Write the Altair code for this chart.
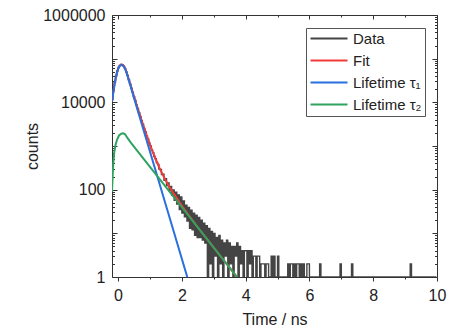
import altair as alt
import pandas as pd

FONT = "Liberation Sans, Arial, sans-serif"
SERIES = ["Data", "Fit", "Lifetime τ₁", "Lifetime τ₂"]
COLORS = ["#444444", "#f23a3a", "#2a6fde", "#2ea35f"]

# measured histogram (channel width 0.04 ns, first channel at -0.18 ns)
T0 = -0.18
DT = 0.04
data_counts = [
    11650, 18540, 28910, 40530, 52710, 62880, 70240, 73310, 72580, 67390,
    59120, 49870, 41460, 32940, 26420, 20980, 17110, 13520, 11030, 8760,
    7210, 5770, 4730, 3790, 3160, 2530, 2120, 1710, 1450, 1170,
    1005, 812, 703, 576, 511, 418, 377,
    298, 289, 221, 226, 164, 178, 124, 143, 96, 118,
    74, 99, 57, 88, 47, 76, 35, 68, 29, 55,
    24, 44, 19, 39, 13, 34, 12, 29, 9, 26,
    8, 23, 8, 20, 7, 17, 6, 15, 1, 13,
    2, 11, 1, 10,
    3, 8, 1, 9, 2, 7, 1, 6, 3, 7, 1, 6, 2, 5, 1, 5, 3, 6, 1, 5,
    2, 4, 1, 4, 4, 1, 4, 2, 4, 1, 3, 3, 1, 3, 3, 1, 2, 2, 2, 1,
    2, 2, 1, 1, 3, 1, 3, 1, 1, 3, 1,
    1, 1, 1, 1, 1, 1, 2, 1, 2, 2, 1, 2, 1, 2, 2, 1, 2, 1, 2, 1,
    1, 2, 2, 1, 1, 1, 1, 1, 1, 1, 1, 2, 1, 1, 1, 1, 1, 1, 1, 1,
    1, 1, 1, 1, 1, 1, 1, 2, 1, 1, 1, 1, 1, 1, 1, 1, 2, 1, 1, 1,
    1, 1, 1, 1, 1, 1, 1, 1, 1, 1, 1, 1, 1, 1, 1, 1, 1, 1, 1, 1,
    1, 1, 1, 1, 1, 1, 1, 1, 1, 1, 1, 1, 1, 1, 1, 1, 1, 1, 1, 1,
    1, 1, 2, 1, 1, 1, 1, 1, 1, 1, 1, 1, 1, 1, 1, 1, 1, 1, 1, 1, 1, 1, 1,
]

fit_time = [-0.19, -0.15, -0.10, -0.05, 0.00, 0.05, 0.10, 0.15, 0.20, 0.25,
            0.30, 0.40, 0.50, 0.60, 0.70, 0.80, 0.90, 1.00, 1.10, 1.20,
            1.30, 1.40, 1.50, 1.60, 1.80, 2.00, 2.20, 2.50, 3.00, 3.73]
fit_counts = [10600, 17000, 29100, 44100, 59100, 69400, 73500, 71900, 65000, 53100,
              41300, 23600, 13600, 7950, 4700, 2830, 1730, 1080, 695, 460,
              314, 221, 160, 118, 71, 43, 27, 13.7, 4.7, 1.0]

tau1_time = [-0.19, -0.15, -0.10, -0.05, 0.00, 0.05, 0.10, 0.15, 0.20, 0.25,
             0.30, 0.40, 0.50, 2.17]
tau1_counts = [10500, 16600, 28200, 42700, 57500, 67600, 71600, 70000, 63100, 51300,
               39800, 22400, 12600, 1.0]

tau2_time = [-0.19, -0.17, -0.15, -0.12, -0.08, -0.03, 0.03, 0.10, 0.16, 0.22,
             0.30, 0.40, 3.73]
tau2_counts = [90, 200, 400, 710, 1050, 1410, 1740, 1905, 1950, 1860,
               1510, 1200, 1.0]

x_ticks = [0, 1, 2, 3, 4, 5, 6, 7, 8, 9, 10]
y_ticks = [m * 10 ** e for e in range(6) for m in range(1, 10)] + [1000000]

data_time = [round(T0 + DT * i, 3) for i in range(len(data_counts))]


def frame(t, c, name):
    return pd.DataFrame({"t": t, "c": c, "series": name})


df_data = frame(data_time, data_counts, SERIES[0])
df_fit = frame(fit_time, fit_counts, SERIES[1])
df_t1 = frame(tau1_time, tau1_counts, SERIES[2])
df_t2 = frame(tau2_time, tau2_counts, SERIES[3])

xs = alt.Scale(domain=[-0.19, 10], nice=False, zero=False)
ys = alt.Scale(type="log", domain=[1, 1000000], nice=False)
cs = alt.Scale(domain=SERIES, range=COLORS)

X_MAJOR = "datum.value % 2 == 0"
Y_DEC = "abs(log(datum.value)/LN10 - round(log(datum.value)/LN10)) < 0.000001"
Y_LAB = "(" + Y_DEC + ") && (round(log(datum.value)/LN10) % 2 == 0)"

common = dict(grid=False, domainColor="#333333", domainWidth=1, tickColor="#333333",
              tickWidth=1, labelFont=FONT, labelFontSize=16, labelColor="#222222",
              titleFont=FONT, titleFontSize=16, titleFontWeight="normal",
              titleColor="#222222", labelFlush=False, labelOverlap=False)

x_bottom = alt.Axis(orient="bottom", values=x_ticks, title="Time / ns",
                    tickSize={"condition": {"test": X_MAJOR, "value": 4}, "value": 2},
                    labelExpr="(" + X_MAJOR + ") ? datum.label : ''", labelPadding=6,
                    titleY=47, titleBaseline="alphabetic", **common)
x_top = alt.Axis(orient="top", values=x_ticks, title=None, labels=False,
                 tickSize={"condition": {"test": X_MAJOR, "value": -4}, "value": -2},
                 **common)
y_left = alt.Axis(orient="left", values=y_ticks, title="counts",
                  tickSize={"condition": {"test": Y_DEC, "value": -5}, "value": -2.5},
                  labelExpr="(" + Y_LAB + ") ? format(datum.value, 'd') : ''",
                  labelPadding=12, titleX=-75, titleY=131, titleAngle=270,
                  titleBaseline="alphabetic", **common)
y_right = alt.Axis(orient="right", values=y_ticks, title=None, labels=False,
                   tickSize={"condition": {"test": Y_DEC, "value": -5}, "value": -2.5},
                   **common)

legend = alt.Legend(title=None, orient="none", legendX=194, legendY=13, padding=3,
                    strokeColor="#555555", fillColor="white", symbolType="M-1.2,0H6.2",
                    symbolSize=100, symbolStrokeWidth=2, labelOffset=29, rowPadding=6,
                    labelFont=FONT, labelFontSize=15, labelColor="#222222", labelLimit=300)


def layer(df, sw, xa, ya, interp="linear"):
    return alt.Chart(df).mark_line(clip=True, strokeWidth=sw, interpolate=interp).encode(
        x=alt.X("t:Q", scale=xs, axis=xa),
        y=alt.Y("c:Q", scale=ys, axis=ya),
        color=alt.Color("series:N", scale=cs, legend=legend),
    )


chart = alt.layer(
    layer(df_data, 1.4, x_bottom, y_left, "step"),
    layer(df_fit, 2, x_top, y_right),
    layer(df_t1, 2, None, None),
    layer(df_t2, 2, None, None),
).resolve_axis(x="independent", y="independent").properties(
    width=325, height=262, autosize="none",
    padding={"left": 112, "top": 15, "right": 15, "bottom": 53},
).configure_view(strokeWidth=0)

chart.save("out.html", embed_options={"renderer": "svg", "actions": False})
